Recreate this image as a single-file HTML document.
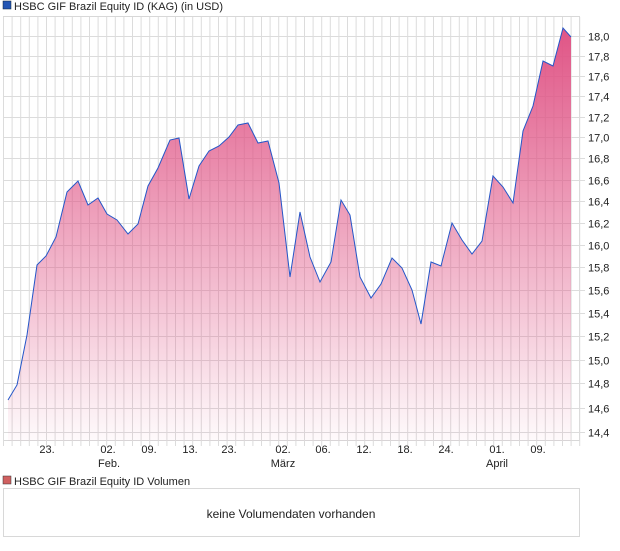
<!DOCTYPE html>
<html><head><meta charset="utf-8"><style>
body{margin:0;background:#fff;width:620px;height:546px;overflow:hidden}
svg{font-family:"Liberation Sans",sans-serif}
</style></head><body>
<svg width="620" height="546" viewBox="0 0 620 546">
<defs>
<linearGradient id="g" x1="0" y1="0" x2="0" y2="1">
<stop offset="0" stop-color="#e05586"/>
<stop offset="1" stop-color="#e05586" stop-opacity="0.03"/>
</linearGradient>
</defs>
<rect x="3" y="1" width="8" height="8" fill="#2456b4" stroke="#123" stroke-width="0.5"/>
<text x="14" y="10" font-size="11" fill="#222">HSBC GIF Brazil Equity ID (KAG) (in USD)</text>
<rect x="3.5" y="16.5" width="576" height="424" fill="#fff" stroke="#d8d8d8"/>
<g stroke="#dcdcdc" stroke-width="1" id="grid"></g>
<path id="area" fill="url(#g)"/>
<polyline id="line" fill="none" stroke="#2456c8" stroke-width="1"/>
<g font-size="11" fill="#222" id="ylab"></g>
<g font-size="11" fill="#222" text-anchor="middle">
<text x="47" y="453">23.</text><text x="108" y="453">02.</text><text x="149" y="453">09.</text><text x="190" y="453">13.</text><text x="229" y="453">23.</text><text x="283" y="453">02.</text><text x="323" y="453">06.</text><text x="364" y="453">12.</text><text x="405" y="453">18.</text><text x="446" y="453">24.</text><text x="497" y="453">01.</text><text x="538" y="453">09.</text>
<text x="109" y="467">Feb.</text><text x="283" y="467">März</text><text x="497" y="467">April</text>
</g>
<rect x="3" y="476" width="8" height="8" fill="#d06060" stroke="#333" stroke-width="0.5"/>
<text x="14" y="485" font-size="11" fill="#222">HSBC GIF Brazil Equity ID Volumen</text>
<rect x="3.5" y="488.5" width="576" height="48" fill="#fff" stroke="#d8d8d8"/>
<text x="291" y="518" font-size="12" fill="#222" text-anchor="middle">keine Volumendaten vorhanden</text>
</svg>
<script>
var ns="http://www.w3.org/2000/svg";
var g=document.getElementById('grid');
for(var x=3.5;x<580;x+=8.6){var l=document.createElementNS(ns,'line');l.setAttribute('x1',x);l.setAttribute('x2',x);l.setAttribute('y1',17);l.setAttribute('y2',446);g.appendChild(l);}
var yl=document.getElementById('ylab');
for(var i=0;i<=18;i++){var v=14.4+i*0.2,y=Math.round(36+1775*Math.log(18/v))+0.5;var l=document.createElementNS(ns,'line');l.setAttribute('x1',3);l.setAttribute('x2',585);l.setAttribute('y1',y);l.setAttribute('y2',y);g.appendChild(l);
var t=document.createElementNS(ns,'text');t.setAttribute('x',588);t.setAttribute('y',y+4);t.textContent=v.toFixed(1).replace('.',',');yl.appendChild(t);}
var p=[[8,400],[17,385],[27,335],[37,265],[46,256],[56,237],[67,192],[78,181],[88,205],[98,198],[107,214],[117,220],[128,234],[138,224],[148,186],[158,168],[170,140],[179,138],[189,199],[199,166],[209,151],[219,146],[229,137],[238,125],[248,123],[258,143],[268,141],[279,183],[290,277],[300,212],[310,257],[320,282],[331,262],[341,200],[350,215],[360,277],[371,298],[381,284],[392,258],[402,268],[412,290],[421,324],[431,262],[441,266],[452,223],[462,240],[472,254],[482,241],[493,176],[503,187],[513,203],[523,131],[533,106],[543,61],[553,66],[563,28],[571,37]];
var s=p.map(function(a){return a.join(',')}).join(' ');
document.getElementById('line').setAttribute('points',s);
document.getElementById('area').setAttribute('d','M8,441 L'+s.replace(/ /g,' L')+' L571,441 Z');
</script>
</body></html>
